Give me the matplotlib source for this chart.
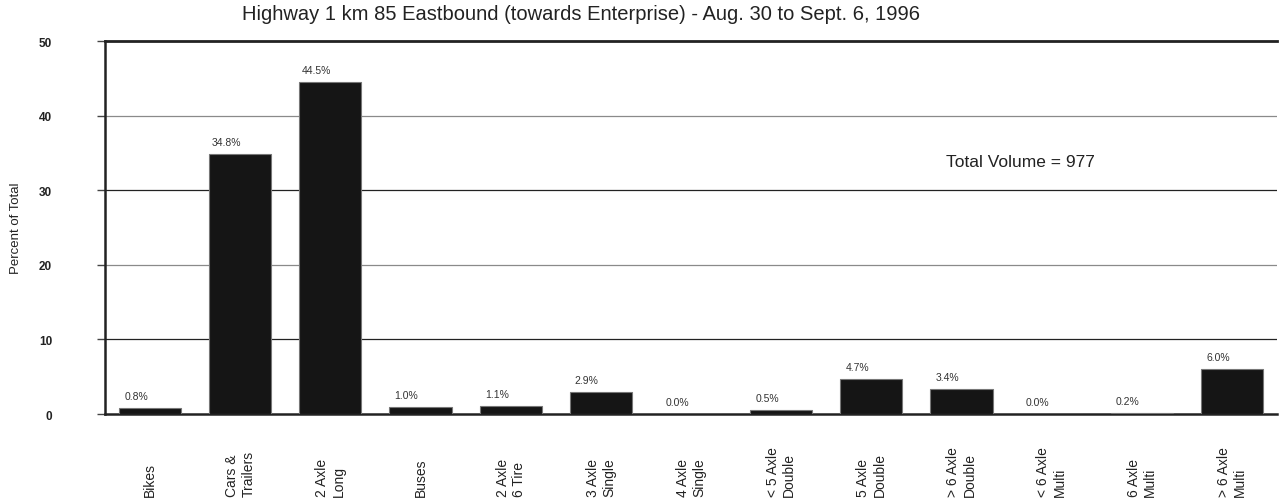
import matplotlib
matplotlib.use("Agg")
import matplotlib.pyplot as plt

plt.rcParams['font.family'] = ['Liberation Sans', 'DejaVu Sans']

categories = ["Bikes", "Cars &\nTrailers", "2 Axle\nLong", "Buses", "2 Axle\n6 Tire",
              "3 Axle\nSingle", "4 Axle\nSingle", "< 5 Axle\nDouble", "5 Axle\nDouble",
              "> 6 Axle\nDouble", "< 6 Axle\nMulti", "6 Axle\nMulti", "> 6 Axle\nMulti"]
percent = [0.8, 34.8, 44.5, 1.0, 1.1, 2.9, 0.0, 0.5, 4.7, 3.4, 0.0, 0.2, 6.0]
title = "Highway 1 km 85 Eastbound (towards Enterprise) - Aug. 30 to Sept. 6, 1996"
total_volume = 977

fig = plt.figure(figsize=(12.79, 5.02), dpi=100)
ax = fig.add_axes([0.0821, 0.1733, 0.9163, 0.743])

x = list(range(len(categories)))
ax.bar(x, percent, width=0.69, color="#151515", edgecolor="#777777", linewidth=0.8, zorder=3)

ax.set_xlim(-0.5, len(categories) - 0.5)
ax.set_ylim(0, 50)

# gridlines: alternating grey / black like the original
for yv, c in [(10, "#222222"), (20, "#8a8a8a"), (30, "#222222"), (40, "#8a8a8a")]:
    ax.axhline(yv, color=c, linewidth=0.9, zorder=1)

ax.spines['right'].set_visible(False)
ax.spines['top'].set_linewidth(2.0)
ax.spines['top'].set_color("#222222")
ax.spines['left'].set_linewidth(1.8)
ax.spines['left'].set_color("#222222")
ax.spines['bottom'].set_linewidth(1.8)
ax.spines['bottom'].set_color("#222222")

ax.set_yticks([0, 10, 20, 30, 40, 50])
ax.tick_params(axis='y', length=6, width=1.0, color="#444444", pad=32, labelsize=8.5)
for lbl in ax.get_yticklabels():
    lbl.set_fontweight('bold')
    lbl.set_color("#222222")
ax.set_ylabel("Percent of Total", fontsize=9.5, color="#222222", labelpad=12)

ax.set_xticks([])
for i, name in enumerate(categories):
    ax.annotate(name, xy=(i, 0), xycoords=('data', 'figure pixels'), xytext=(0, 5),
                textcoords='offset pixels', rotation=90, ha='center', va='bottom',
                multialignment='left', fontsize=10, color="#222222")

for i, v in enumerate(percent):
    ax.annotate(f"{v:.1f}%", xy=(i, v), xytext=(-14, 12), textcoords='offset pixels',
                ha='center', va='center', fontsize=7.5, color="#333333")

ax.text(0.718, 0.676, f"Total Volume = {total_volume}", transform=ax.transAxes,
        ha='left', va='center', fontsize=12.5, color="#222222")

fig.text(0.454, 0.972, title, ha='center', va='center', fontsize=14.5, color="#222222")

fig.savefig("out.png", dpi=100)
